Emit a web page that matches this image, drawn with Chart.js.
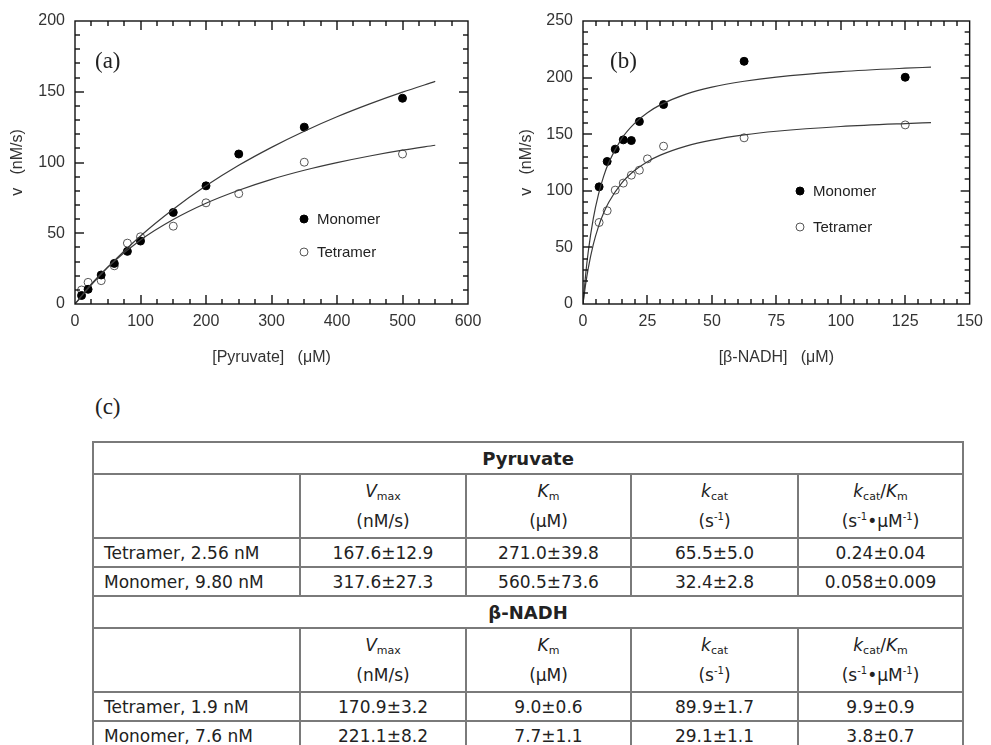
<!DOCTYPE html>
<html>
<head>
<meta charset="utf-8">
<script src="https://cdn.jsdelivr.net/npm/chart.js@4.4.0/dist/chart.umd.min.js"></script>
<style>
html, body { margin: 0; padding: 0; background: #fff; }
body { width: 991px; height: 745px; overflow: hidden; position: relative; }
#chart-a { position: absolute; left: 0; top: 0; }
#chart-b { position: absolute; left: 500px; top: 0; }
.panel-c { position: absolute; left: 95px; top: 394px; font: 23px "Liberation Serif", serif; color: #222; }
#params { position: absolute; left: 92px; top: 441px; border-collapse: collapse; table-layout: fixed; width: 870px;
  font: 17px "DejaVu Sans", sans-serif; color: #222; }
#params td { border: 2px solid #7a7a7a; padding: 0; text-align: center; vertical-align: middle; }
#params td.lbl { text-align: left; padding-left: 10px; }
#params td.head { font-weight: bold; font-size: 18px; }
#params td.unit { line-height: 30px; }
#params sub, #params sup { line-height: 0; }
#params sub { font-size: 11px; vertical-align: -3px; }
#params sup { font-size: 10px; vertical-align: 7px; }
</style>
</head>
<body>
<canvas id="chart-a" width="495" height="372"></canvas>
<canvas id="chart-b" width="491" height="372"></canvas>
<div class="panel-c">(c)</div>
<table id="params"></table>

<script>
// (a) pyruvate, measured points
const pyrX = [10, 20, 40, 60, 80, 100, 150, 200, 250, 350, 500];
const pyrMonomer = [6, 10.4, 20.5, 28.7, 37.2, 44.5, 64.7, 83.5, 106, 125, 145.4];
const pyrTetramer = [9.9, 15.3, 16.5, 27, 43, 47.5, 55, 71.5, 78, 100.2, 106];
// (a) fitted curves
const pyrFitX = [0, 25, 50, 100, 150, 200, 250, 300, 350, 400, 450, 500, 550];
const pyrFitMonomer = [0, 13.6, 26, 48.1, 67, 83.5, 98, 110.7, 122.1, 132.3, 141.4, 149.7, 157.3];
const pyrFitTetramer = [0, 14.2, 26.1, 45.2, 59.7, 71.2, 80.4, 88.1, 94.5, 99.9, 104.6, 108.7, 112.2];

// (b) beta-NADH, measured points
const nadhMonoX = [6.25, 9.375, 12.5, 15.625, 18.75, 21.875, 31.25, 62.5, 125];
const nadhMonomer = [103.5, 125.9, 136.8, 145, 144.4, 161.2, 176.2, 214.4, 200.3];
const nadhTetX = [6.25, 9.375, 12.5, 15.625, 18.75, 21.875, 25, 31.25, 62.5, 125];
const nadhTetramer = [72, 82.4, 100.6, 106.8, 113.8, 118.2, 128.2, 139.4, 146.8, 158.2];
// (b) fitted curves
const nadhFitX = [0, 1, 2, 4, 6, 8, 10, 15, 20, 25, 30, 40, 50, 62.5, 75, 100, 125, 135];
const nadhFitMonomer = [0, 25.4, 45.6, 75.6, 96.8, 112.7, 124.9, 146.1, 159.6, 169, 175.9, 185.4, 191.6, 196.8, 200.5, 205.3, 208.3, 209.2];
const nadhFitTetramer = [0, 17.1, 31.1, 52.6, 68.4, 80.4, 89.9, 106.8, 117.9, 125.7, 131.5, 139.5, 144.8, 149.4, 152.6, 156.8, 159.4, 160.2];

// (c) table
const colHeads = [
  '<i>V</i><sub>max</sub><br>(nM/s)',
  '<i>K</i><sub>m</sub><br>(μM)',
  '<i>k</i><sub>cat</sub><br>(s<sup>-1</sup>)',
  '<i>k</i><sub>cat</sub>/<i>K</i><sub>m</sub><br>(s<sup>-1</sup>•μM<sup>-1</sup>)'
];
const pyrRows = [
  ['Tetramer, 2.56 nM', '167.6±12.9', '271.0±39.8', '65.5±5.0', '0.24±0.04'],
  ['Monomer, 9.80 nM', '317.6±27.3', '560.5±73.6', '32.4±2.8', '0.058±0.009']
];
const nadhRows = [
  ['Tetramer, 1.9 nM', '170.9±3.2', '9.0±0.6', '89.9±1.7', '9.9±0.9'],
  ['Monomer, 7.6 nM', '221.1±8.2', '7.7±1.1', '29.1±1.1', '3.8±0.7']
];

const pts = (xs, ys) => xs.map((x, i) => ({ x, y: ys[i] }));

// frame, inward ticks on all four sides, panel letter and in-plot legend
const framePlugin = {
  id: 'frameTicks',
  afterDraw(chart) {
    const cfg = chart.config._frame;
    if (!cfg) return;
    const ctx = chart.ctx, a = chart.chartArea;
    const xs = chart.scales.x, ys = chart.scales.y;
    ctx.save();
    ctx.strokeStyle = '#111';
    ctx.lineWidth = 1.4;
    ctx.strokeRect(a.left, a.top, a.right - a.left, a.bottom - a.top);

    const line = (x1, y1, x2, y2) => { ctx.beginPath(); ctx.moveTo(x1, y1); ctx.lineTo(x2, y2); ctx.stroke(); };
    const isMajor = (v, step) => Math.abs(v / step - Math.round(v / step)) < 1e-6;
    const nx = Math.round((xs.max - xs.min) / cfg.xMinor);
    for (let i = 1; i < nx; i++) {
      const v = xs.min + i * cfg.xMinor;
      const len = isMajor(v, cfg.xMajor) ? 9 : 5;
      const px = Math.round(xs.getPixelForValue(v));
      line(px, a.bottom, px, a.bottom - len);
      line(px, a.top, px, a.top + len);
    }
    const ny = Math.round((ys.max - ys.min) / cfg.yMinor);
    for (let i = 1; i < ny; i++) {
      const v = ys.min + i * cfg.yMinor;
      const len = isMajor(v, 50) ? 9 : 5;
      const py = Math.round(ys.getPixelForValue(v));
      line(a.left, py, a.left + len, py);
      line(a.right, py, a.right - len, py);
    }

    ctx.fillStyle = '#222';
    ctx.font = '23px "Liberation Serif", serif';
    ctx.textBaseline = 'middle';
    ctx.fillText(cfg.panel, cfg.panelPos[0], cfg.panelPos[1]);

    ctx.font = '15px "Liberation Sans", Arial, sans-serif';
    chart.data.datasets.filter(d => d.pointRadius > 0).forEach((d, i) => {
      const [lx, ly] = cfg.legendPos[i];
      ctx.beginPath();
      ctx.arc(lx, ly, 4, 0, Math.PI * 2);
      ctx.fillStyle = d.backgroundColor;
      ctx.fill();
      ctx.strokeStyle = d.borderColor;
      ctx.lineWidth = 1;
      ctx.stroke();
      ctx.fillStyle = '#222';
      ctx.fillText(d.label, lx + 13, ly + 1);
    });
    ctx.restore();
  }
};

const tickFont = { size: 16, family: '"Liberation Sans", Arial, sans-serif' };

function makeChart(id, c) {
  const chart = new Chart(document.getElementById(id), {
    type: 'scatter',
    data: {
      datasets: [
        { label: 'fitM', data: pts(c.fitX, c.fitM), showLine: true, pointRadius: 0, borderColor: '#3a3a3a', borderWidth: 1.2, cubicInterpolationMode: 'monotone' },
        { label: 'fitT', data: pts(c.fitX, c.fitT), showLine: true, pointRadius: 0, borderColor: '#3a3a3a', borderWidth: 1.2, cubicInterpolationMode: 'monotone' },
        { label: 'Monomer', data: pts(c.mx, c.my), pointRadius: 4, backgroundColor: '#000', borderColor: '#000', borderWidth: 1 },
        { label: 'Tetramer', data: pts(c.tx, c.ty), pointRadius: 4, backgroundColor: '#fff', borderColor: '#555', borderWidth: 1 }
      ]
    },
    options: {
      responsive: false,
      animation: false,
      layout: { padding: { left: 0, top: 21, right: c.padRight, bottom: 0 } },
      plugins: { legend: { display: false }, tooltip: { enabled: false } },
      scales: {
        x: {
          type: 'linear', min: 0, max: c.xMax,
          ticks: { stepSize: c.xStep, color: '#333', font: tickFont, padding: 8 },
          grid: { display: false, drawTicks: false },
          border: { display: false },
          title: { display: true, text: c.xTitle, color: '#333', font: tickFont, padding: { top: 0, bottom: 5 } },
          afterFit: s => { s.height = 68; }
        },
        y: {
          type: 'linear', min: 0, max: c.yMax,
          ticks: { stepSize: 50, color: '#333', font: tickFont, padding: 10 },
          grid: { display: false, drawTicks: false },
          border: { display: false },
          title: { display: true, text: 'v   (nM/s)', color: '#333', font: tickFont, padding: { top: c.yTitlePad, bottom: 0 } },
          afterFit: s => { s.width = c.yWidth; }
        }
      }
    },
    plugins: [framePlugin]
  });
  chart.config._frame = { xMinor: c.xMinor, xMajor: c.xStep, yMinor: 10, panel: c.panel, panelPos: c.panelPos, legendPos: c.legendPos };
  chart.draw();
  return chart;
}

makeChart('chart-a', {
  fitX: pyrFitX, fitM: pyrFitMonomer, fitT: pyrFitTetramer,
  mx: pyrX, my: pyrMonomer, tx: pyrX, ty: pyrTetramer,
  xMax: 600, xStep: 100, xMinor: 25, yMax: 200,
  xTitle: '[Pyruvate]   (μM)', yWidth: 75, yTitlePad: 8.4, padRight: 27,
  panel: '(a)', panelPos: [95, 62], legendPos: [[304, 219], [304, 252]]
});

makeChart('chart-b', {
  fitX: nadhFitX, fitM: nadhFitMonomer, fitT: nadhFitTetramer,
  mx: nadhMonoX, my: nadhMonomer, tx: nadhTetX, ty: nadhTetramer,
  xMax: 150, xStep: 25, xMinor: 5, yMax: 250,
  xTitle: '[β-NADH]   (μM)', yWidth: 83, yTitlePad: 17.4, padRight: 15,
  panel: '(b)', panelPos: [110, 62], legendPos: [[300, 191], [300, 227]]
});

// table
const table = document.getElementById('params');
const rowHeights = { title: 32, head: 64, data: 29 };
function addSection(title, rows) {
  let tr = table.insertRow();
  tr.style.height = rowHeights.title + 'px';
  const td = tr.insertCell();
  td.colSpan = 5; td.className = 'head'; td.textContent = title;
  tr = table.insertRow();
  tr.style.height = rowHeights.head + 'px';
  tr.insertCell();
  colHeads.forEach(h => { const c = tr.insertCell(); c.className = 'unit'; c.innerHTML = h; });
  rows.forEach(r => {
    const row = table.insertRow();
    row.style.height = rowHeights.data + 'px';
    r.forEach((v, i) => { const c = row.insertCell(); c.textContent = v; if (i === 0) c.className = 'lbl'; });
  });
}
const colW = [207, 166, 165, 167, 165];
const cg = document.createElement('colgroup');
colW.forEach(w => { const col = document.createElement('col'); col.style.width = w + 'px'; cg.appendChild(col); });
table.appendChild(cg);
addSection('Pyruvate', pyrRows);
addSection('β-NADH', nadhRows);
</script>
</body>
</html>
